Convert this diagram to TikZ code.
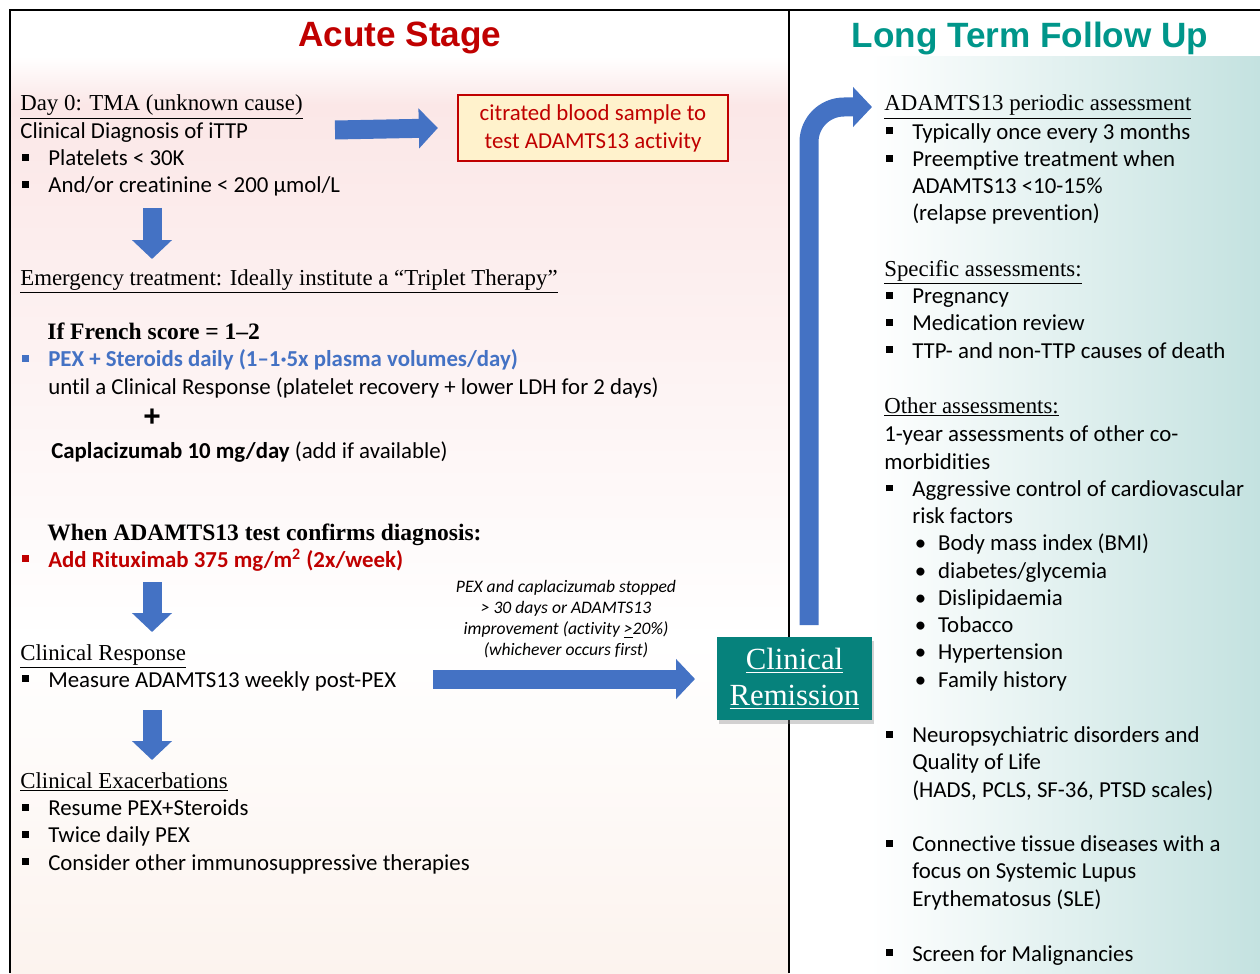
\documentclass[tikz,border=0pt]{standalone}
\usepackage{fontspec}
\setmainfont{Carlito}[Ligatures=NoCommon]
\newfontfamily\hdserif{Liberation Serif}
\newfontfamily\ttlsans{Liberation Sans}
\usetikzlibrary{arrows.meta,shadows}

\definecolor{arrowblue}{RGB}{68,114,196}
\definecolor{acutered}{RGB}{192,0,0}
\definecolor{ltteal}{RGB}{0,150,138}
\definecolor{remteal}{RGB}{6,130,124}
\definecolor{citfill}{RGB}{255,242,204}
\definecolor{pinkbg}{RGB}{251,231,231}
\definecolor{peachbg}{RGB}{252,243,238}
\definecolor{tealbg}{RGB}{196,226,224}

\newcommand{\sqb}{\makebox[15.9pt][l]{\hspace{1.2pt}\rule[0.22em]{0.3em}{0.3em}}}
\newcommand{\rdb}{\hspace*{17.4pt}\makebox[13.2pt][l]{\textbullet}}
\newcommand{\ind}{\hspace*{15.9pt}}

\begin{document}
\begin{tikzpicture}[x=0.02cm,y=-0.02cm,
    ttl/.style={yshift=-0.06cm,font=\ttlsans\bfseries\fontsize{20}{24}\selectfont},
    hd/.style={anchor=base west,inner sep=0,yshift=-0.04cm,font=\hdserif\fontsize{13}{15.5}\selectfont},
    hdb/.style={hd,font=\hdserif\bfseries\fontsize{13.4}{15.5}\selectfont},
    body/.style={anchor=base west,inner sep=0,align=left,yshift=-0.04cm,font=\fontsize{13}{15.5}\selectfont},
    fatarrow/.style={draw=arrowblue,line width=0.38cm,-{Triangle[length=0.38cm,width=0.78cm]}}]

  % backgrounds
  \useasboundingbox (0,0) rectangle (1260,973);
  \fill[white] (0,0) rectangle (1260,973);
  \shade[top color=white,bottom color=pinkbg] (10,57) rectangle (789,105);
  \shade[top color=pinkbg,bottom color=white] (10,105) rectangle (789,640);
  \shade[top color=white,bottom color=peachbg] (10,640) rectangle (789,973);
  \shade[left color=white,right color=tealbg] (870,57) rectangle (1260,973);

  % frame
  \draw[line width=0.7pt] (10,973) -- (10,10) -- (1260,10);
  \draw[line width=0.7pt] (789,10) -- (789,973);

  % acute stage (multi-line nodes sit on the baseline of their last line)
  \node[ttl,text=acutered] (acute) at (400,35) {Acute Stage};
  \node[hd] (day0) at (20,109) {\underline{Day 0: TMA (unknown cause)}};
  \node[body] (diag) at (20,191) {Clinical Diagnosis of iTTP\\
    \sqb Platelets < 30K\\
    \sqb And/or creatinine < 200 µmol/L};
  \node[draw=acutered,fill=citfill,line width=1.4pt,minimum width=5.4cm,minimum height=1.32cm,
    align=center,text=acutered,font=\fontsize{13}{15.9}\selectfont] (cit) at (593,128)
    {citrated blood sample to\\test ADAMTS13 activity};
  \node[hd] (emerg) at (20,283) {\underline{Emergency treatment: Ideally institute a “Triplet Therapy”}};
  \node[hdb] (french) at (47,337) {If French score = 1–2};
  \node[body] (pex) at (20,392) {\textcolor{arrowblue}{\sqb\bfseries PEX + Steroids daily (1–1·5x plasma volumes/day)}\\
    \ind until a Clinical Response (platelet recovery + lower LDH for 2 days)};
  \node[font=\ttlsans\bfseries\fontsize{17}{17}\selectfont,inner sep=0] (plus) at (152,418) {+};
  \node[body] (capla) at (51,456) {\textbf{Caplacizumab 10 mg/day} (add if available)};
  \node[hdb] (when) at (47,538) {When ADAMTS13 test confirms diagnosis:};
  \node[body,text=acutered] (ritux) at (20,565) {\sqb\bfseries Add Rituximab 375 mg/m\textsuperscript{2} (2x/week)};
  \node[hd] (resp) at (20,658) {\underline{Clinical Response}};
  \node[body] (meas) at (20,685) {\sqb Measure ADAMTS13 weekly post-PEX};
  \node[hd] (exac) at (20,786) {\underline{Clinical Exacerbations}};
  \node[body] (exl) at (20,868) {\sqb Resume PEX+Steroids\\
    \sqb Twice daily PEX\\
    \sqb Consider other immunosuppressive therapies};
  \node[align=center,font=\itshape\fontsize{10}{12.1}\selectfont] (stopnote) at (566,619)
    {PEX and caplacizumab stopped\\ > 30 days or ADAMTS13\\ improvement (activity \underline{>}20\%)\\ (whichever occurs first)};

  % remission box
  \node[fill=remteal,minimum width=3.1cm,minimum height=1.66cm,align=center,text=white,
    drop shadow={shadow xshift=1pt,shadow yshift=-2pt,opacity=0.35},
    font=\hdserif\fontsize{17.5}{20.4}\selectfont] (rem) at (794.5,678.5)
    {\underline{Clinical}\\\underline{Remission}};

  % long term follow up
  \node[ttl,text=ltteal] (ltfu) at (1030,35) {Long Term Follow Up};
  \node[hd] (adam) at (884,109) {\underline{ADAMTS13 periodic assessment}};
  \node[body] (adl) at (884,219) {\sqb Typically once every 3 months\\
    \sqb Preemptive treatment when\\
    \ind ADAMTS13 <10-15\%\\
    \ind (relapse prevention)};
  \node[hd] (spec) at (884,274) {\underline{Specific assessments:}};
  \node[body] (spl) at (884,356) {\sqb Pregnancy\\
    \sqb Medication review\\
    \sqb TTP- and non-TTP causes of death};
  \node[hd] (oth) at (884,411) {\underline{Other assessments:}};
  \node[body] (otl) at (884,685) {1-year assessments of other co-\\
    morbidities\\
    \sqb Aggressive control of cardiovascular\\
    \ind risk factors\\
    \rdb Body mass index (BMI)\\
    \rdb diabetes/glycemia\\
    \rdb Dislipidaemia\\
    \rdb Tobacco\\
    \rdb Hypertension\\
    \rdb Family history};
  \node[body] (neu) at (884,795) {\sqb Neuropsychiatric disorders and\\
    \ind Quality of Life\\
    \ind (HADS, PCLS, SF-36, PTSD scales)};
  \node[body] (ctd) at (884,904) {\sqb Connective tissue diseases with a\\
    \ind focus on Systemic Lupus\\
    \ind Erythematosus (SLE)};
  \node[body] (mal) at (884,959) {\sqb Screen for Malignancies};

  % arrows
  \coordinate (d1a) at (152,208);
  \coordinate (d1b) at (152,259);
  \coordinate (d2a) at (152,582);
  \coordinate (d2b) at (152,632);
  \coordinate (d3a) at (152,710);
  \coordinate (d3b) at (152,760);
  \coordinate (r1a) at (335,130);
  \coordinate (r2a) at (433,679);
  \coordinate (r2b) at (695,679);
  \coordinate (up0) at (809,625);
  \coordinate (up1) at (872,107);
  \draw[fatarrow] (d1a) -- (d1b);
  \draw[fatarrow] (d2a) -- (d2b);
  \draw[fatarrow] (d3a) -- (d3b);
  \draw[fatarrow] (r1a) -- ([xshift=-0.38cm]cit.west);
  \draw[fatarrow] (r2a) -- (r2b);
  \draw[fatarrow,rounded corners=0.7cm] (up0) |- (up1);
\end{tikzpicture}
\end{document}
